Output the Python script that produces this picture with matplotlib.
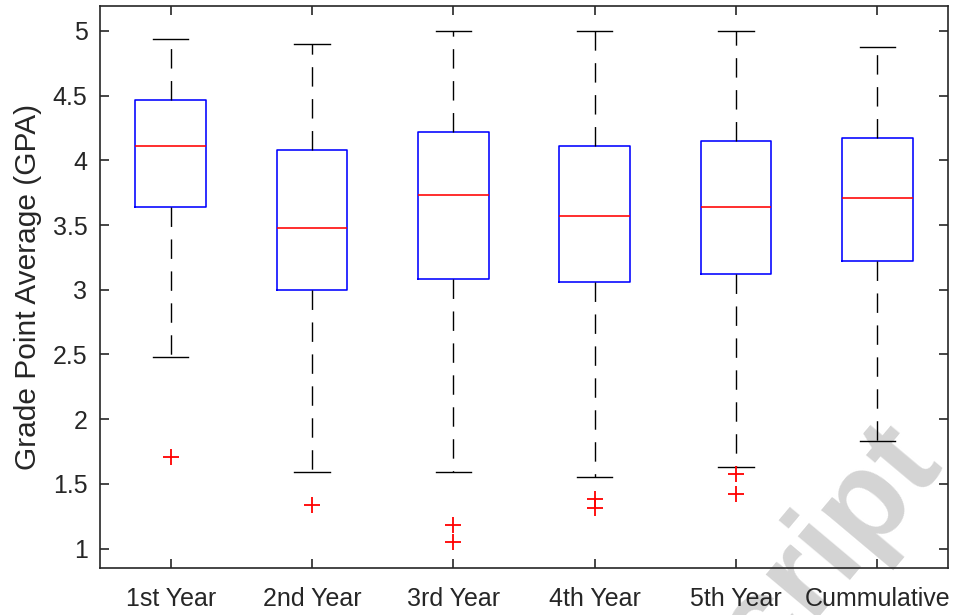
import matplotlib
matplotlib.use("Agg")
import matplotlib.pyplot as plt

# GPA distribution summary per study year
categories = ['1st Year', '2nd Year', '3rd Year', '4th Year', '5th Year', 'Cummulative']
q1 = [3.64, 3.00, 3.08, 3.06, 3.12, 3.22]
medians = [4.11, 3.48, 3.73, 3.57, 3.64, 3.71]
q3 = [4.47, 4.08, 4.22, 4.11, 4.15, 4.17]
whisker_low = [2.48, 1.59, 1.59, 1.55, 1.63, 1.83]
whisker_high = [4.94, 4.90, 5.00, 5.00, 5.00, 4.88]
outliers = [[1.71], [1.34], [1.18, 1.05], [1.38, 1.31], [1.58, 1.42], []]

ytick_values = [1, 1.5, 2, 2.5, 3, 3.5, 4, 4.5, 5]
ytick_labels = ['1', '1.5', '2', '2.5', '3', '3.5', '4', '4.5', '5']

plt.rcParams['font.family'] = ['Liberation Sans', 'DejaVu Sans']
ink = '#262626'

W, H = 956, 615
fig = plt.figure(figsize=(W / 100, H / 100), dpi=100)
ax = fig.add_axes([100 / W, (H - 568) / H, 848 / W, 562 / H])

stats = []
for i, name in enumerate(categories):
    stats.append(dict(label=name, q1=q1[i], med=medians[i], q3=q3[i],
                      whislo=whisker_low[i], whishi=whisker_high[i],
                      fliers=outliers[i]))

positions = list(range(1, len(categories) + 1))
ax.bxp(stats, positions=positions, widths=0.5, capwidths=0.25,
       showfliers=True,
       boxprops=dict(color='#0000ff', linewidth=1.15),
       medianprops=dict(color='#ff0000', linewidth=1.15),
       whiskerprops=dict(color='black', linewidth=1.0, linestyle=(0, (14, 9))),
       capprops=dict(color='black', linewidth=1.0),
       flierprops=dict(marker='+', markeredgecolor='#ff0000', markersize=11,
                       markeredgewidth=1.3, linestyle='none'))

ax.set_xlim(0.5, 6.5)
ax.set_ylim(0.85, 5.193)
ax.set_xticks(positions)
ax.set_xticklabels(categories)
ax.set_yticks(ytick_values)
ax.set_yticklabels(ytick_labels)

for side in ax.spines.values():
    side.set_linewidth(1.2)
    side.set_color(ink)

ax.tick_params(axis='both', which='both', direction='in', length=6.5, width=1.2,
               color=ink, labelcolor=ink, labelsize=18, top=True, right=True)
ax.tick_params(axis='x', pad=13.5)
ax.tick_params(axis='y', pad=9)

ax.set_ylabel('Grade Point Average (GPA)', fontsize=21.5, color=ink, labelpad=8)

# journal watermark behind the chart
fig.text(942 / W, 1 - 460 / H, 'Manuscript', fontsize=92, fontweight='bold',
         color='#d4d4d4', rotation=50, rotation_mode='anchor',
         ha='right', va='baseline', zorder=0)
ax.set_zorder(1)
ax.patch.set_alpha(0)
fig.patch.set_facecolor('white')

fig.savefig('out.png', dpi=100)
